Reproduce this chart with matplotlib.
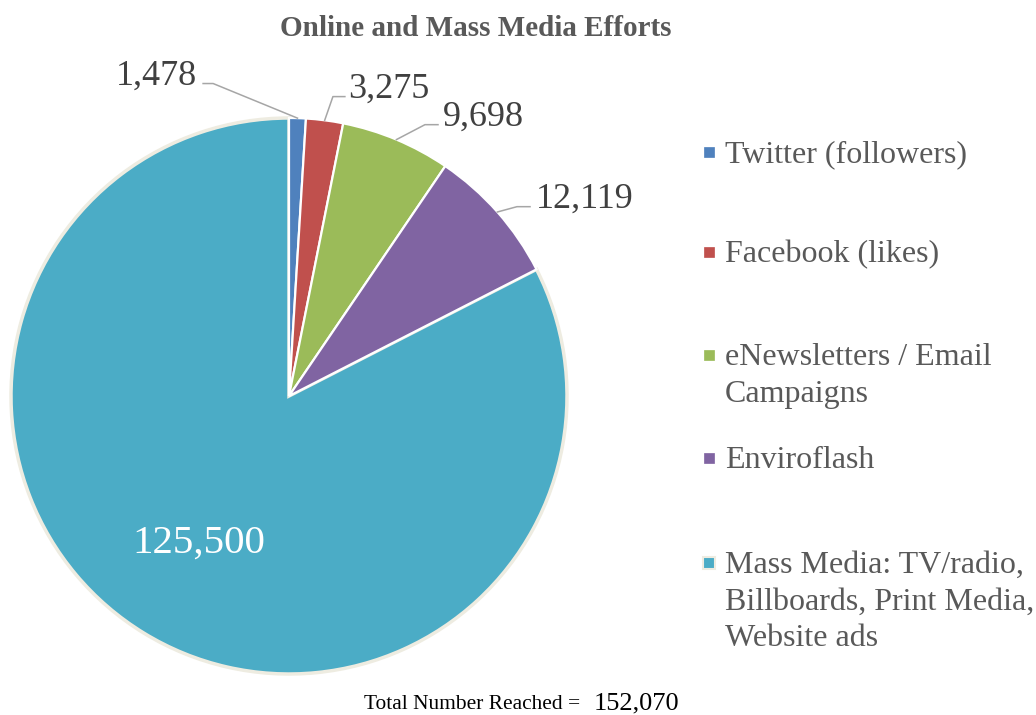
import numpy as np
import matplotlib.pyplot as plt
from matplotlib.patches import Rectangle

# data
categories = ['Twitter (followers)', 'Facebook (likes)', 'eNewsletters / Email\nCampaigns',
              'Enviroflash', 'Mass Media: TV/radio,\nBillboards, Print Media,\nWebsite ads']
values = [1478, 3275, 9698, 12119, 125500]
colors = ['#4F81BD', '#C0504D', '#9BBB59', '#8064A2', '#4BACC6']
total = sum(values)

plt.rcParams['font.family'] = ['Liberation Serif', 'DejaVu Serif']

W, H = 1036, 715
fig = plt.figure(figsize=(W / 100, H / 100), dpi=100)

# pie axes: centre (289, 396) px, radius 278 px
cx, cy, r = 289, 396, 278
ax = fig.add_axes([(cx - r) / W, (H - cy - r) / H, 2 * r / W, 2 * r / H])
wedges, _ = ax.pie(values, colors=colors, startangle=90, counterclock=False, radius=1,
                   wedgeprops=dict(edgecolor='white', linewidth=1.6))
wedges[-1].set_edgecolor('#EEECE1')
wedges[-1].set_linewidth(2.5)
wedges[-1].set_zorder(0)
ax.set_xlim(-1, 1)
ax.set_ylim(-1, 1)
ax.set_aspect('equal')
ax.axis('off')

def mid(w):
    return np.deg2rad((w.theta1 + w.theta2) / 2)

# outside labels with leader lines (layout: text pos, elbow x, line end x)
outer = [(-0.476, 1.119, -0.273, -0.309),
         (0.36, 1.072, 0.158, 0.201),
         (0.70, 0.971, 0.489, 0.536),
         (1.065, 0.676, 0.82, 0.867)]
for w, v, (tx, ty, ex, lx) in zip(wedges[:4], values[:4], outer):
    a = mid(w)
    ax0, ay0 = np.cos(a), np.sin(a)
    ly = ty + 0.005
    ax.plot([ax0, ex, lx], [ay0, ly, ly], color='#A6A6A6', lw=1.1, clip_on=False)
    ax.text(tx, ty, f'{v:,}', ha='center', va='baseline', fontsize=26,
            color='#404040', clip_on=False)

a = mid(wedges[-1])
ax.text(0.62 * np.cos(a), 0.62 * np.sin(a), f'{values[-1]:,}', ha='center', va='center',
        fontsize=29.5, color='white')

fig.text(476 / W, 1 - 29 / H, 'Online and Mass Media Efforts', ha='center', va='center',
         fontsize=21, fontweight='bold', color='#595959')

# legend
leg_y = [152, 252, 355, 458, 563]
for lab, c, y in zip(categories, colors, leg_y):
    big = c == '#4BACC6'
    s = 12 if big else 10
    fig.patches.append(Rectangle(((709 - s / 2) / W, 1 - (y + s / 2) / H), s / W, s / H,
                                 transform=fig.transFigure, facecolor=c,
                                 edgecolor='#EEECE1' if big else c, lw=1.5 if big else 0.5))
    fig.text(725 / W, 1 - (y - 12) / H, lab, ha='left', va='top', fontsize=23,
             color='#595959', linespacing=1.35)

fig.text(585 / W, 1 - 709 / H, 'Total Number Reached = ', ha='right', va='baseline',
         fontsize=15.4, color='black')
fig.text(594 / W, 1 - 709 / H, f'{total:,}', ha='left', va='baseline',
         fontsize=19, color='black')

fig.savefig('out.png', dpi=100)
